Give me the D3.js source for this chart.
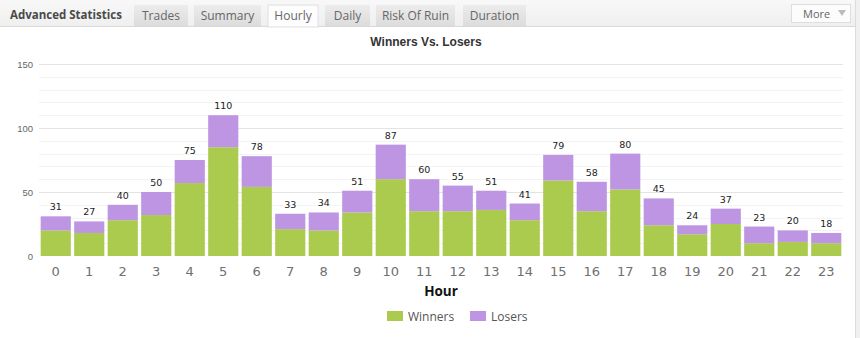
<!DOCTYPE html>
<html><head><meta charset="utf-8">
<script src="https://cdn.jsdelivr.net/npm/d3@7"></script>
<style>
html,body{margin:0;padding:0;background:#fff;}
svg{display:block;}
</style></head>
<body>
<svg id="c" width="860" height="338"></svg>
<script>
const hours = ["0","1","2","3","4","5","6","7","8","9","10","11","12","13","14","15","16","17","18","19","20","21","22","23"];
const winners = [20,18,28,32,57,85,54,21,20,34,60,35,35,36,28,59,35,52,24,17,25,10,11,10];
const losers  = [11,9,12,18,18,25,24,12,14,17,27,25,20,15,13,20,23,28,21,7,12,13,9,8];
const yTicks = [0,50,100,150];
const tabs = ["Trades","Summary","Hourly","Daily","Risk Of Ruin","Duration"];
const tabEdges = [[134,188],[194,261],[268,318],[325,370],[376,455],[463,526]];
const activeTab = "Hourly";
const seriesNames = ["Winners","Losers"];
const colors = {Winners:"#abcb4f", Losers:"#bd95e3"};

const svg = d3.select("#c");
const defs = svg.append("defs");
const hg = defs.append("linearGradient").attr("id","hg").attr("x1",0).attr("y1",0).attr("x2",0).attr("y2",1);
hg.append("stop").attr("offset","0").attr("stop-color","#f8f8f8");
hg.append("stop").attr("offset","1").attr("stop-color","#efefef");
const tg = defs.append("linearGradient").attr("id","tg").attr("x1",0).attr("y1",0).attr("x2",0).attr("y2",1);
tg.append("stop").attr("offset","0").attr("stop-color","#ececec");
tg.append("stop").attr("offset","1").attr("stop-color","#dcdcdc");

// header
svg.append("rect").attr("x",0).attr("y",0).attr("width",860).attr("height",26).attr("fill","url(#hg)");
svg.append("line").attr("x1",0).attr("x2",856).attr("y1",26.5).attr("y2",26.5).attr("stroke","#d9d9d9");
svg.append("rect").attr("x",855).attr("y",0).attr("width",5).attr("height",338).attr("fill","#f0f0f0");
svg.append("line").attr("x1",855.5).attr("x2",855.5).attr("y1",0).attr("y2",338).attr("stroke","#dcdcdc");
svg.append("text").attr("x",10).attr("y",19).text("Advanced Statistics")
  .attr("font-family","Open Sans, sans-serif").attr("font-weight","bold").attr("font-size",11.5).attr("fill","#4a4a4a");
tabs.forEach((t,i)=>{
  const [a,b] = tabEdges[i];
  const act = t===activeTab;
  svg.append("rect").attr("x",a).attr("y",5).attr("width",b-a).attr("height",act?22:21)
    .attr("fill",act?"#fdfdfd":"url(#tg)").attr("stroke",act?"#e0e0e0":"none");
  svg.append("text").attr("x",(a+b)/2).attr("y",20).attr("text-anchor","middle").text(t)
    .attr("font-family","Open Sans, sans-serif").attr("font-size",12).attr("fill","#666");
});
// More button
svg.append("rect").attr("x",791.5).attr("y",4.5).attr("width",59).attr("height",18).attr("fill","#fcfcfc").attr("stroke","#dedede");
svg.append("text").attr("x",803).attr("y",18).text("More").attr("font-family","Open Sans, sans-serif").attr("font-size",11).attr("fill","#666");
svg.append("path").attr("d","M838,10 L846,10 L842,16 Z").attr("fill","#bbb");

// chart
const x = d3.scaleBand().domain(hours).range([39,843]).paddingInner(0.1).paddingOuter(0.05);
const y = d3.scaleLinear().domain([0,150]).range([256,64]);

// grid
const g = svg.append("g");
g.selectAll("line.minor").data(d3.range(10,151,10).filter(v=>v%50!==0)).join("line")
  .attr("x1",39).attr("x2",843).attr("y1",d=>Math.round(y(d))+0.5).attr("y2",d=>Math.round(y(d))+0.5)
  .attr("stroke","#f3f3f3");
g.selectAll("line.major").data(yTicks.filter(v=>v>0)).join("line")
  .attr("x1",39).attr("x2",843).attr("y1",d=>Math.round(y(d))+0.5).attr("y2",d=>Math.round(y(d))+0.5)
  .attr("stroke","#e3e3e3");

// y axis
const ya = svg.append("g").attr("transform","translate(33,0)")
  .call(d3.axisLeft(y).tickValues(yTicks).tickSize(0).tickPadding(0));
ya.select(".domain").remove();
ya.selectAll("text").attr("font-family","Liberation Sans, Arial, sans-serif").attr("font-size",9.5).attr("fill","#666");

// stacked bars
const rows = hours.map((h,i)=>({hour:h, Winners:winners[i], Losers:losers[i]}));
const stack = d3.stack().keys(seriesNames)(rows);
svg.append("g").selectAll("g").data(stack).join("g").attr("fill",d=>colors[d.key])
  .selectAll("rect").data(d=>d).join("rect")
  .attr("x",d=>x(d.data.hour)).attr("width",x.bandwidth())
  .attr("y",d=>y(d[1])).attr("height",d=>y(d[0])-y(d[1]));

// totals
svg.append("g").selectAll("text").data(rows).join("text")
  .attr("x",d=>x(d.hour)+x.bandwidth()/2).attr("y",d=>y(d.Winners+d.Losers)-6)
  .attr("text-anchor","middle").text(d=>d.Winners+d.Losers)
  .attr("font-family","DejaVu Sans, sans-serif").attr("font-size",9.5).attr("fill","#222");

// x axis
const xa = svg.append("g").attr("transform","translate(0,257)")
  .call(d3.axisBottom(x).tickSize(0).tickPadding(10));
xa.select(".domain").remove();
xa.selectAll("text").attr("font-family","DejaVu Sans, sans-serif").attr("font-size",13).attr("fill","#707070");

// titles
svg.append("text").attr("x",426).attr("y",46).attr("text-anchor","middle").text("Winners Vs. Losers")
  .attr("font-family","Liberation Sans, Arial, sans-serif").attr("font-weight","bold").attr("font-size",12).attr("fill","#333");
svg.append("text").attr("x",441).attr("y",296).attr("text-anchor","middle").text("Hour")
  .attr("font-family","Open Sans, sans-serif").attr("font-weight","bold").attr("font-size",13.5).attr("fill","#111");

// legend
const legX = [387,470];
const lg = svg.append("g").selectAll("g").data(seriesNames).join("g")
  .attr("transform",(d,i)=>`translate(${legX[i]},311)`);
lg.append("rect").attr("width",16).attr("height",10).attr("fill",d=>colors[d]);
lg.append("text").attr("x",21).attr("y",10).text(d=>d)
  .attr("font-family","Open Sans, sans-serif").attr("font-size",12).attr("fill","#555");
</script>
</body></html>
